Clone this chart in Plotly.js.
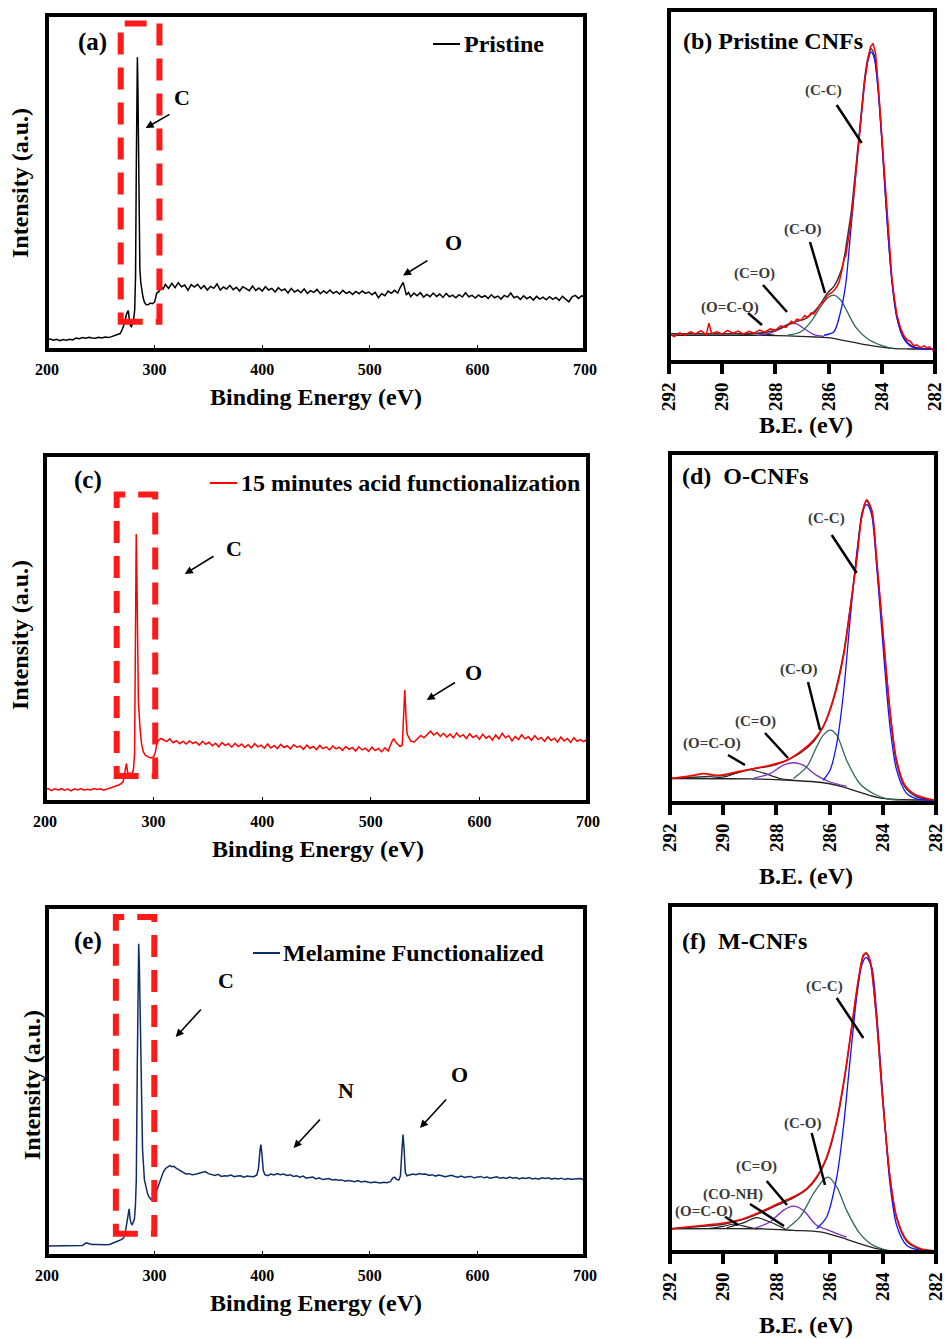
<!DOCTYPE html>
<html>
<head>
<meta charset="utf-8">
<script src="https://cdn.plot.ly/plotly-3.0.1.min.js"></script>
<style>html,body{margin:0;padding:0;background:#fff;}#chart{width:946px;height:1339px;}</style>
</head>
<body>
<div id="chart"></div>
<script>
// ---------------- DATA (binding energy eV, intensity a.u.) ----------------
const surveyPristine = [
[200,3.0],[203,3.3],[206,2.9],[209,3.2],[212,2.8],[215,3.1],[218,2.9],[221,3.2],[224,3.0],[227,3.6],[230,3.4],[233,3.7],[236,3.5],[239,3.8],[242,3.6],[245,3.5],[248,3.8],[251,3.6],[254,3.9],[257,3.7],[260,4.0],[263,4.3],[266,4.6],
[268,4.9],[270,6.2],[272,8.0],[274,10.8],[275.5,11.8],[276.5,9.2],[277.5,7.3],[278.5,7.0],[279.5,7.8],[280.5,9.0],[281.5,12.0],
[282.3,22],[283,55],[283.6,80],[284,87.4],[284.5,78],[285,55],[285.6,32],[286.3,24.2],[287.2,20.0],[288.2,17.3],[289.2,15.8],[290.5,14.3],[292,13.6],[294,13.5],[296,14.0],[298,13.8],
[300,14.3],[302,17.0],[304,17.4],[306,18.9],[308,18.2],
[310,19.6],[313,18.4],[316,19.9],[319,18.6],[322,20.1],[325,18.9],[328,19.4],[331,17.8],[334,19.5],[337,18.8],[340,19.6],[343,18.3],[346,19.2],[349,17.9],[352,19.0],[355,18.4],[358,19.7],[361,17.9],[364,18.8],[367,18.2],[370,19.3],[373,18.0],[376,18.7],[379,17.6],[382,18.9],[385,18.3],[388,17.7],[391,19.1],[394,17.8],[397,18.5],[400,17.6],[403,18.9],[406,17.9],[409,18.4],[412,17.3],[415,18.6],[418,17.7],[421,18.2],[424,17.0],[427,18.4],[430,17.3],[433,17.9],[436,17.1],[439,18.2],[442,16.9],[445,17.7],[448,17.2],[451,18.1],[454,16.8],[457,17.6],[460,17.0],[463,17.9],[466,16.9],[469,17.5],[472,16.7],[475,17.8],[478,16.9],[481,17.4],[484,16.6],[487,17.5],[490,16.8],[493,17.6],[496,16.9],[499,17.3],[502,16.5],[505,17.2],[508,15.6],[511,16.8],[514,16.2],[517,17.6],[520,16.9],[523,17.8],[526,17.0],
[528,18.5],[530,19.8],[531,20.2],[532,19.0],[534,16.4],[536,17.2],[538,15.9],
[541,17.0],[544,16.2],[547,17.1],[550,15.8],[553,16.6],[556,15.9],[559,17.0],[562,16.0],[565,16.7],[568,15.7],[571,16.9],[574,15.9],[577,16.4],[580,15.6],[583,16.5],[586,15.8],[589,17.1],[592,15.9],[595,16.3],[598,15.5],[601,16.4],[604,15.7],[607,16.2],[610,15.4],[613,16.5],[616,15.6],[619,16.1],[622,15.2],[625,16.3],[628,15.8],[631,17.0],[634,15.6],[637,16.0],[640,15.1],[643,16.2],[646,15.3],[649,15.9],[652,14.9],[655,16.0],[658,15.2],[661,15.8],[664,15.0],[667,15.9],[670,15.1],[673,15.7],[676,14.8],[679,16.0],[682,15.2],[685,14.4],[688,15.9],[691,16.3],[694,15.4],[697,16.2],[700,15.5]
];
const surveyAcid = [
[200,3.6],[203,3.9],[206,3.3],[209,3.8],[212,3.5],[215,3.9],[218,3.4],[221,3.7],[224,3.2],[227,3.8],[230,3.5],[233,3.9],[236,3.4],[239,3.7],[242,3.5],[245,3.9],[248,3.6],[251,3.8],[254,3.4],[257,3.7],[260,4.0],[263,4.2],[266,4.6],
[268,4.9],[270,5.3],[272,5.9],[273.5,8.5],[275,11.1],[276.2,8.3],[277.5,8.2],[279,8.3],[280.5,8.2],[281.5,9.5],[282.5,14],[283.2,50],[284,77.2],[284.6,65],[285.2,45],[286,29],[287.5,21.2],[289,16.5],[290.5,14.5],[292.5,13.4],[295,13.0],[297.5,12.7],[300,13.0],[301.7,14.5],[303,16.8],[304.5,17.8],[307,18.3],
[309,18.0],[312,17.4],[315,18.2],[318,17.1],[321,17.7],[324,16.8],[327,17.5],[330,16.7],[333,17.6],[336,16.9],[339,17.3],[342,16.4],[345,17.5],[348,16.6],[351,17.2],[354,16.2],[357,16.9],[360,15.9],[363,17.1],[366,16.3],[369,16.8],[372,15.8],[375,16.9],[378,16.0],[381,16.7],[384,15.7],[387,16.5],[390,15.6],[393,16.8],[396,15.9],[399,16.4],[402,15.5],[405,16.7],[408,15.6],[411,16.3],[414,15.4],[417,16.6],[420,15.7],[423,16.2],[426,15.3],[429,16.5],[432,15.8],[435,16.1],[438,15.2],[441,16.4],[444,15.5],[447,16.0],[450,15.1],[453,16.3],[456,15.4],[459,15.9],[462,15.0],[465,16.1],[468,15.3],[471,15.8],[474,14.9],[477,16.0],[480,15.2],[483,15.7],[486,14.7],[489,15.9],[492,15.0],[495,15.5],[498,14.6],[501,15.8],[504,14.8],[507,15.4],[510,14.5],[513,15.6],[516,14.7],
[519,17.1],[521,18.3],[523,17.2],[525,16.5],[527,16.0],[529,16.4],[530,22],[531.3,32.3],[532.5,24],[533.5,19.5],[535,18.6],[537,17.5],[540,17.3],
[543,18.4],[546,19.2],[549,18.5],[552,19.6],[555,20.4],[558,19.3],[561,20.0],[564,18.9],[567,19.8],[570,18.7],[573,19.6],[576,18.5],[579,19.9],[582,18.8],[585,19.4],[588,18.3],[591,19.7],[594,18.6],[597,19.2],[600,18.1],[603,19.5],[606,18.4],[609,19.0],[612,17.9],[615,19.3],[618,18.2],[621,19.8],[624,18.5],[627,19.1],[630,17.6],[633,18.9],[636,18.0],[639,19.4],[642,18.2],[645,18.8],[648,17.8],[651,19.1],[654,18.0],[657,18.6],[660,17.5],[663,18.8],[666,17.7],[669,18.4],[672,17.3],[675,18.7],[678,17.6],[681,18.3],[684,17.2],[687,18.5],[690,17.5],[693,18.0],[696,17.4],[698,17.9],[700,16.4]
];
const surveyMelamine = [
[200,2.9],[205,2.9],[210,2.8],[215,2.9],[220,2.9],[225,2.9],[230,2.9],[233,3.0],[235.5,3.6],[237,3.8],[239,3.5],[242,3.3],[246,3.3],[250,3.2],[254,3.2],[258,3.3],[261,3.6],[263.5,4.0],[266,4.3],[268.5,4.6],[271,5.1],[272.5,6.2],[274,9.5],[275.5,13.0],[276.3,13.5],[277.3,10.5],[278.3,9.2],[279.3,9.0],[280.3,9.6],[281.2,10.5],[282.2,14.5],[283,22],[283.9,54.3],[284.6,82],[285.2,89.5],[285.8,84],[286.5,73.3],[287.5,49.5],[288.8,30.5],[290.5,21.9],[292,19.4],[293.5,17.8],[295,16.8],[297,16.1],[299,16.5],[300.5,17.4],[302,18.8],[304,20.6],[306,22.6],[308,24.0],[310,25.0],[312,25.6],[314,25.9],[316,25.6],[318,25.7],[320,25.2],[323,24.6],[326,23.9],[329,23.5],[332,23.6],[335,23.3],[338,23.4],[341,23.7],[344,23.8],[347,24.2],[350,23.6],[353,23.4],[356,23.1],[359,23.4],[362,22.8],[365,23.0],[368,22.9],[371,23.2],[374,22.7],[377,22.9],[380,23.0],[383,22.6],[386,22.9],[389,22.8],[392,22.7],[395,23.2],[396.5,25],[398,30.5],[398.8,31.9],[399.8,29],[401,24.5],[402.5,23.3],[405,23.0],[408,23.5],[411,23.2],[414,23.6],[417,23.3],[420,23.5],[423,23.1],[426,23.3],[429,22.8],[432,23.0],[435,22.6],[438,22.9],[441,22.3],[444,22.5],[447,22.6],[450,22.1],[453,22.4],[456,21.9],[459,22.1],[462,22.2],[465,21.8],[468,21.9],[471,21.7],[474,21.8],[477,21.4],[480,21.6],[483,21.5],[486,21.3],[489,21.6],[492,21.2],[495,21.4],[498,21.3],[501,21.0],[504,21.2],[507,21.1],[510,20.9],[513,21.1],[516,21.0],[519,21.3],[521.5,22.4],[523,22.6],[525,21.9],[527,21.8],[528.5,23],[529.8,30],[530.9,34.8],[532,30],[533,24],[534.5,23.0],[537,23.2],[540,23.5],[543,23.3],[546,23.6],[549,23.4],[552,23.5],[555,23.1],[558,23.3],[561,22.9],[564,23.2],[567,23.0],[570,22.7],[573,22.9],[576,23.1],[579,22.8],[582,22.6],[585,22.9],[588,22.5],[591,22.7],[594,22.8],[597,22.4],[600,22.6],[603,22.8],[606,22.4],[609,22.6],[612,22.3],[615,22.5],[618,22.7],[621,22.3],[624,22.5],[627,22.2],[630,22.6],[633,22.3],[636,22.5],[639,22.1],[642,22.4],[645,22.2],[648,22.5],[651,22.1],[654,22.3],[657,22.0],[660,22.4],[663,22.2],[666,22.4],[669,22.0],[672,22.3],[675,22.1],[678,22.3],[681,21.9],[684,22.2],[687,22.0],[690,22.1],[693,22.0],[696,22.2],[700,21.6]
];
// highlighted C1s windows on the survey spectra: [eV start, eV end], [intensity low, intensity high]
const boxPristine_eV = [268.5, 304.5], boxPristine_I = [8.4, 97.5];
const boxAcid_eV = [266, 301.5], boxAcid_I = [7.5, 88.6];
const boxMelamine_eV = [264, 299.7], boxMelamine_I = [6.4, 97.1];

// ---- C1s high-resolution (b) Pristine CNFs ----
const pCNF_raw = [[292,8.0],[291.8,7.2],[291.6,8.3],[291.4,7.6],[291.2,8.6],[291.0,8.0],[290.8,8.9],[290.6,7.7],[290.5,11.0],[290.4,8.1],[290.2,8.6],[290.0,7.9],[289.8,9.0],[289.6,8.2],[289.4,8.8],[289.2,7.9],[289.0,8.7],[288.8,8.2],[288.6,9.1],[288.4,8.5],[288.2,9.4],[288.0,9.0],[287.8,10.3],[287.6,9.8],[287.4,11.6],[287.3,11.0],[287.2,12.2],[287.04,11.8],[286.9,13.2],[286.8,12.6],[286.65,14.0],[286.55,13.6],[286.4,15.4],[286.3,16.5],[286.15,17.4],[286.05,18.9],[285.9,19.6],[285.8,20.3],[285.68,21.5],[285.6,22.9],[285.5,26],[285.42,29.5],[285.36,30],[285.3,32.4],[285.2,37.5],[285.1,43.8],[285.0,51],[284.93,57.1],[284.84,64.5],[284.74,72.4],[284.65,79.5],[284.55,84.8],[284.43,89.5],[284.33,90.5],[284.23,87.6],[284.12,77.1],[283.99,62.9],[283.9,52],[283.8,41],[283.7,31.5],[283.62,23.8],[283.52,17.8],[283.43,13.3],[283.3,9.8],[283.18,7.6],[283.05,6.3],[282.93,5.9],[282.8,4.6],[282.68,4.9],[282.55,4.1],[282.4,4.6],[282.31,4.0],[282.2,4.3],[282.1,3.5],[282.0,2.4]];
const pCNF_fit = [[292,8.0],[289,8.1],[288.5,8.3],[288,9.0],[287.5,10.8],[287.2,11.6],[286.9,12.2],[286.6,13.9],[286.3,16.5],[286.05,19.5],[285.8,21.5],[285.6,24.5],[285.45,28],[285.3,35],[285.15,42.5],[284.99,54],[284.8,68.5],[284.62,82],[284.5,87],[284.4,89],[284.28,87],[284.15,79],[283.99,62.5],[283.8,40.5],[283.62,23.3],[283.43,12.8],[283.18,7.0],[282.87,4.5],[282.56,3.9],[282,3.7]];
const pCNF_CC = [[286.17,7.6],[285.8,8.6],[285.55,14.3],[285.36,21.9],[285.18,36.2],[284.99,52.4],[284.8,67.6],[284.62,81],[284.5,86.2],[284.4,88.1],[284.28,86.2],[284.15,78.1],[283.99,61.9],[283.8,40],[283.62,22.9],[283.43,12.4],[283.18,6.7],[282.87,4.3],[282.56,3.8],[282,3.7]];
const pCNF_CO = [[287.54,7.6],[287.04,8.6],[286.67,11.4],[286.3,15.7],[286.05,18.1],[285.8,19.0],[285.55,17.6],[285.3,14.3],[284.99,10],[284.55,6.7],[284.05,4.8],[283.56,3.8]];
const pCNF_CdO = [[288.66,7.6],[288.16,8.3],[287.79,9.5],[287.48,10.7],[287.23,10.9],[286.92,9.5],[286.55,7.8],[286.17,7.3]];
const pCNF_OCO = [[289.4,7.6],[289.0,7.9],[288.7,8.1],[288.4,7.9],[288.0,7.6]];
const pCNF_bg = [[292,7.6],[289,7.6],[287.5,7.4],[286.5,7.1],[286,6.9],[285.5,6.2],[285,5.5],[284.5,4.8],[284,4.2],[283.5,3.8],[283,3.7],[282,3.7]];

// ---- C1s (d) O-CNFs ----
const oCNF_raw = [[291.94,7.0],[291.12,7.9],[290.75,8.4],[290.12,7.9],[289.49,8.9],[288.87,9.8],[288.24,10.8],[287.61,12.2],[287.11,14.6],[286.61,17.9],[286.24,21.8],[285.86,29.4],[285.48,41.8],[285.23,55.2],[284.98,69.5],[284.79,81.9],[284.61,86.6],[284.42,83.8],[284.23,69.5],[283.98,47.5],[283.73,26.5],[283.48,12.2],[283.17,5.1],[282.73,2.2],[282.04,0.8]];
const oCNF_fit = [[292,7.0],[290.75,7.5],[290,7.9],[289.5,8.6],[289,9.6],[288.5,10.2],[288,11.0],[287.6,12.2],[287.1,14.3],[286.6,17.6],[286.24,21.8],[285.86,29.8],[285.48,42.5],[285.23,55.5],[284.98,70],[284.79,82.5],[284.61,86.3],[284.42,83.5],[284.23,69],[283.98,47],[283.73,26],[283.48,11.5],[283.17,4.6],[282.73,1.8],[282,0.8]];
const oCNF_CC = [[286.24,6.5],[285.98,9.4],[285.73,17],[285.48,31.3],[285.23,52.3],[284.98,71.4],[284.79,81.9],[284.67,84.9],[284.58,85.2],[284.42,82.3],[284.23,67.6],[283.98,43.7],[283.73,21.8],[283.48,9.4],[283.1,2.7],[282.73,1.2],[282.04,0.8]];
const oCNF_CO = [[287.36,7.0],[286.86,10.3],[286.49,16],[286.24,19.4],[285.98,20.8],[285.73,19.4],[285.36,12.2],[284.86,5.5],[284.36,2.7],[283.85,1.2],[283.35,0.9]];
const oCNF_CdO = [[288.87,7.0],[288.24,8.4],[287.74,10.8],[287.36,11.5],[286.99,10.8],[286.49,7.9],[285.98,6.0],[285.36,4.8]];
const oCNF_OCO = [[290.5,7.0],[289.87,7.6],[289.37,8.9],[289.0,9.5],[288.5,8.6],[287.86,7.0],[287.36,6.5]];
const oCNF_bg = [[292,7.0],[289,6.9],[287.5,6.5],[286.5,6.0],[286,5.5],[285.5,4.6],[285,3.4],[284.5,2.2],[284,1.3],[283.5,1.0],[282,0.8]];

// ---- C1s (f) M-CNFs ----
const mCNF_raw = [[291.94,6.7],[291.12,7.4],[290.12,8.2],[289.24,9.6],[288.62,11.5],[287.99,13.75],[287.36,15.9],[286.86,18.3],[286.49,21.6],[286.11,27.4],[285.73,38],[285.42,51.4],[285.17,64.9],[284.92,78.4],[284.73,85.6],[284.63,86.25],[284.48,84.1],[284.26,69.7],[284.0,43.75],[283.73,21.6],[283.48,10.1],[283.1,3.4],[282.6,1.0],[282.04,0.3]];
const mCNF_fit = [[292,6.7],[291,7.3],[290,8.0],[289.24,9.4],[288.62,11.2],[288,13.4],[287.36,15.6],[286.86,18.0],[286.49,21.3],[286.11,27.0],[285.73,37.6],[285.42,51],[285.17,64.5],[284.92,78],[284.73,85.3],[284.63,86],[284.48,83.8],[284.26,69.3],[284,43.5],[283.73,21.4],[283.48,9.8],[283.1,3.1],[282.6,0.8],[282,0.2]];
const mCNF_CC = [[286.49,6.7],[286.11,10.1],[285.73,21.6],[285.48,36],[285.23,55.3],[284.98,73.6],[284.79,82.7],[284.63,84.9],[284.42,82.2],[284.23,68.75],[283.98,42.8],[283.73,19.7],[283.48,7.7],[283.1,1.9],[282.6,0.5],[282.04,0.2]];
const mCNF_CO = [[287.61,6.7],[287.11,10.1],[286.61,16.8],[286.24,20.7],[286.05,21.6],[285.73,18.75],[285.36,12],[284.86,5.3],[284.36,1.9],[283.85,0.5]];
const mCNF_CdO = [[288.87,6.7],[288.24,8.65],[287.74,12],[287.36,13.2],[286.99,12],[286.49,7.7],[285.98,6.1],[285.36,4.3]];
const mCNF_CONH = [[289.87,7.0],[289.24,8.4],[288.74,9.9],[288.24,8.65],[287.61,6.4]];
const mCNF_OCO = [[290.5,6.8],[290.0,7.4],[289.62,8.0],[289.18,7.4],[288.74,6.6]];
const mCNF_bg = [[292,6.7],[288.6,6.7],[287.36,6.25],[286.36,5.8],[285.61,4.3],[284.86,2.4],[284.23,1.0],[283.61,0.3],[282,0.2]];

const surveyTicks = [200,300,400,500,600,700];
const c1sTicks = [292,290,288,286,284,282];

// ---------------- LAYOUT HELPERS ----------------
const W = 946, H = 1339;
const px = v => v / W;
const py = v => 1 - v / H;
const FONT = '"Liberation Serif","Times New Roman",Times,serif';
const X = a => a.map(p => p[0]);
const Y = a => a.map(p => p[1]);

function line(data, xa, ya, color, width, shape) {
  return {x: X(data), y: Y(data), xaxis: xa, yaxis: ya, type: 'scatter', mode: 'lines',
    line: {color: color, width: width, shape: shape || 'linear', smoothing: 0.8},
    hoverinfo: 'skip', showlegend: false};
}

const RED = '#ff0000', BLUE = '#1010ff', GREEN = '#2f6a55', PURPLE = '#7a2fc0', BLK = '#222222', NAVY = '#0f2c6b';

const traces = [
  line(surveyPristine, 'x', 'y', '#000', 1.5),
  // (b)
  line(pCNF_bg, 'x2', 'y2', BLK, 1.3, 'spline'),
  line(pCNF_OCO, 'x2', 'y2', BLK, 1.2, 'spline'),
  line(pCNF_CdO, 'x2', 'y2', PURPLE, 1.3, 'spline'),
  line(pCNF_CO, 'x2', 'y2', GREEN, 1.3, 'spline'),
  line(pCNF_fit, 'x2', 'y2', '#333', 1.5, 'spline'),
  line(pCNF_CC, 'x2', 'y2', BLUE, 1.3, 'spline'),
  line(pCNF_raw, 'x2', 'y2', RED, 1.5),
  // (c)
  line(surveyAcid, 'x3', 'y3', RED, 1.5),
  // (d)
  line(oCNF_bg, 'x4', 'y4', BLK, 1.3, 'spline'),
  line(oCNF_OCO, 'x4', 'y4', BLK, 1.2, 'spline'),
  line(oCNF_CdO, 'x4', 'y4', PURPLE, 1.3, 'spline'),
  line(oCNF_CO, 'x4', 'y4', GREEN, 1.3, 'spline'),
  line(oCNF_fit, 'x4', 'y4', '#333', 1.5, 'spline'),
  line(oCNF_CC, 'x4', 'y4', BLUE, 1.3, 'spline'),
  line(oCNF_raw, 'x4', 'y4', RED, 1.6, 'spline'),
  // (e)
  line(surveyMelamine, 'x5', 'y5', NAVY, 1.5),
  // (f)
  line(mCNF_bg, 'x6', 'y6', BLK, 1.3, 'spline'),
  line(mCNF_OCO, 'x6', 'y6', BLK, 1.2, 'spline'),
  line(mCNF_CONH, 'x6', 'y6', BLK, 1.2, 'spline'),
  line(mCNF_CdO, 'x6', 'y6', PURPLE, 1.3, 'spline'),
  line(mCNF_CO, 'x6', 'y6', GREEN, 1.3, 'spline'),
  line(mCNF_fit, 'x6', 'y6', '#333', 1.5, 'spline'),
  line(mCNF_CC, 'x6', 'y6', BLUE, 1.3, 'spline'),
  line(mCNF_raw, 'x6', 'y6', RED, 1.6, 'spline')
];

function surveyX(x0, x1) {
  return {domain: [px(x0), px(x1)], range: [200, 700], tickvals: surveyTicks, ticktext: surveyTicks.map(String),
    ticks: 'inside', ticklen: 5, tickwidth: 1.2, tickcolor: '#000', showgrid: false, zeroline: false, showline: false,
    tickfont: {family: FONT, size: 16, color: '#000', weight: 'bold'}, ticklabelstandoff: 8,
    ticklabeloverflow: 'allow', fixedrange: true};
}
function c1sX(x0, x1) {
  return {domain: [px(x0), px(x1)], range: [292, 282], tickvals: c1sTicks, ticktext: c1sTicks.map(String),
    ticks: 'outside', ticklen: 11, tickwidth: 4, tickcolor: '#000', showgrid: false, zeroline: false, showline: false,
    tickangle: -90, tickfont: {family: FONT, size: 19, color: '#000', weight: 'bold'}, ticklabelstandoff: 1,
    ticklabeloverflow: 'allow', fixedrange: true};
}
function yAx(y0, y1) {
  return {domain: [py(y1), py(y0)], range: [0, 100], showticklabels: false, ticks: '', showgrid: false,
    zeroline: false, showline: false, fixedrange: true};
}

const P = {
  a: [47, 585, 15, 350], b: [669, 935, 10, 362],
  c: [45, 588, 455, 802], d: [670, 936, 453, 803],
  e: [47, 585, 907, 1256], f: [670, 936, 905, 1252]
};

const layout = {
  width: W, height: H, margin: {l: 0, r: 0, t: 0, b: 0}, paper_bgcolor: '#fff', plot_bgcolor: '#fff',
  showlegend: false, hovermode: false,
  font: {family: FONT, color: '#000', weight: 'bold'},
  xaxis: Object.assign(surveyX(P.a[0], P.a[1]), {anchor: 'y'}),
  yaxis: Object.assign(yAx(P.a[2], P.a[3]), {anchor: 'x'}),
  xaxis2: Object.assign(c1sX(P.b[0], P.b[1]), {anchor: 'y2'}),
  yaxis2: Object.assign(yAx(P.b[2], P.b[3]), {anchor: 'x2'}),
  xaxis3: Object.assign(surveyX(P.c[0], P.c[1]), {anchor: 'y3'}),
  yaxis3: Object.assign(yAx(P.c[2], P.c[3]), {anchor: 'x3'}),
  xaxis4: Object.assign(c1sX(P.d[0], P.d[1]), {anchor: 'y4'}),
  yaxis4: Object.assign(yAx(P.d[2], P.d[3]), {anchor: 'x4'}),
  xaxis5: Object.assign(surveyX(P.e[0], P.e[1]), {anchor: 'y5'}),
  yaxis5: Object.assign(yAx(P.e[2], P.e[3]), {anchor: 'x5'}),
  xaxis6: Object.assign(c1sX(P.f[0], P.f[1]), {anchor: 'y6'}),
  yaxis6: Object.assign(yAx(P.f[2], P.f[3]), {anchor: 'x6'}),
  shapes: [], annotations: []
};

// frames
['', '2', '3', '4', '5', '6'].forEach(s => {
  layout.shapes.push({type: 'rect', xref: 'x' + s + ' domain', yref: 'y' + s + ' domain', x0: 0, x1: 1, y0: 0, y1: 1,
    line: {color: '#000', width: 4}, fillcolor: 'rgba(0,0,0,0)', layer: 'above'});
});
// red dashed highlight boxes (data coordinates)
[[boxPristine_eV, boxPristine_I, ''], [boxAcid_eV, boxAcid_I, '3'], [boxMelamine_eV, boxMelamine_I, '5']].forEach(b => {
  layout.shapes.push({type: 'rect', xref: 'x' + b[2], yref: 'y' + b[2], x0: b[0][0], x1: b[0][1], y0: b[1][0], y1: b[1][1],
    line: {color: '#ff1a1a', width: 6, dash: '22px,13px'}, fillcolor: 'rgba(0,0,0,0)', layer: 'above'});
});
// legend sample lines and leader lines
function seg(x0, y0, x1, y1, color, width) {
  layout.shapes.push({type: 'line', xref: 'paper', yref: 'paper', x0: px(x0), y0: py(y0), x1: px(x1), y1: py(y1),
    line: {color: color, width: width}, layer: 'above'});
}
seg(433, 44, 460, 44, '#000', 2);
seg(210, 483, 237, 483, RED, 2);
seg(253, 953, 280, 953, NAVY, 2);
[[836.7,105,861.7,143],[810,242,825,293],[763,285,787,312],[748,313,762,325],
 [831.7,535,856.7,573],[808,682,820,730],[765,733,788,758],[728,755,745,765],
 [836.7,998,863.3,1038],[811.7,1133,825,1185],[766.7,1181,787,1205],[750,1204,784,1226],[725,1216.7,738.3,1225]
].forEach(l => seg(l[0], l[1], l[2], l[3], '#000', 2.5));

function txt(x, y, text, size, extra) {
  layout.annotations.push(Object.assign({xref: 'paper', yref: 'paper', x: px(x), y: py(y), text: text, showarrow: false,
    font: {family: FONT, size: size, color: '#000', weight: 'bold'}, xanchor: 'center', yanchor: 'middle'}, extra || {}));
}
function arrow(tx, ty, hx, hy) {
  layout.annotations.push({xref: 'paper', yref: 'paper', x: px(hx), y: py(hy), ax: tx - hx, ay: ty - hy, text: '',
    showarrow: true, arrowhead: 2, arrowsize: 1, arrowwidth: 1.6, arrowcolor: '#000', standoff: 0, startstandoff: 0});
}

// panel labels
txt(92, 42, '(a)', 25);
txt(88, 480, '(c)', 25);
txt(88, 941, '(e)', 25);
txt(681, 41, '(b) Pristine CNFs', 24, {xanchor: 'left'});
txt(680, 476, '(d)\u00a0 O-CNFs', 24, {xanchor: 'left'});
txt(680, 941, '(f)\u00a0 M-CNFs', 24, {xanchor: 'left'});
// legends
txt(462, 44, 'Pristine', 24, {xanchor: 'left'});
txt(239, 483, '15 minutes acid functionalization', 24, {xanchor: 'left'});
txt(281, 953, 'Melamine Functionalized', 24, {xanchor: 'left'});
// element labels and arrows
txt(182, 98, 'C', 22); arrow(171, 113.5, 145.6, 128);
txt(453, 243, 'O', 22); arrow(428.9, 259.7, 403, 275.6);
txt(234, 548, 'C', 22); arrow(215, 555.3, 184.8, 574);
txt(473, 673, 'O', 22); arrow(456.5, 681.6, 426.7, 700);
txt(226, 980, 'C', 22); arrow(202.3, 1008, 175.7, 1037);
txt(346, 1090, 'N', 22); arrow(321.4, 1118, 293.6, 1148);
txt(459, 1074, 'O', 22); arrow(447.5, 1098, 420, 1128);
// component labels
function comp(x, y, t) { txt(x, y, t, 15, {font: {family: FONT, size: 15, color: '#3a3a3a', weight: 'bold'}}); }
comp(823, 91, '(C-C)'); comp(803, 230, '(C-O)'); comp(754, 273, '(C=O)'); comp(730, 307, '(O=C-O)');
comp(826, 518, '(C-C)'); comp(799, 669, '(C-O)'); comp(755, 721, '(C=O)'); comp(712, 743, '(O=C-O)');
comp(824, 986, '(C-C)'); comp(803, 1123, '(C-O)'); comp(756, 1166, '(C=O)'); comp(733, 1194, '(CO-NH)'); comp(704, 1211, '(O=C-O)');
// axis titles
txt(316, 397, 'Binding Energy (eV)', 24);
txt(318, 849, 'Binding Energy (eV)', 24);
txt(316, 1303, 'Binding Energy (eV)', 24);
txt(20, 183, 'Intensity (a.u.)', 24, {textangle: -90});
txt(20, 635, 'Intensity (a.u.)', 24, {textangle: -90});
txt(32, 1085, 'Intensity (a.u.)', 24, {textangle: -90});
txt(806, 425, 'B.E. (eV)', 24);
txt(806, 876, 'B.E. (eV)', 24);
txt(806, 1325, 'B.E. (eV)', 24);

Plotly.newPlot('chart', traces, layout, {staticPlot: true, displayModeBar: false});
</script>
</body>
</html>
